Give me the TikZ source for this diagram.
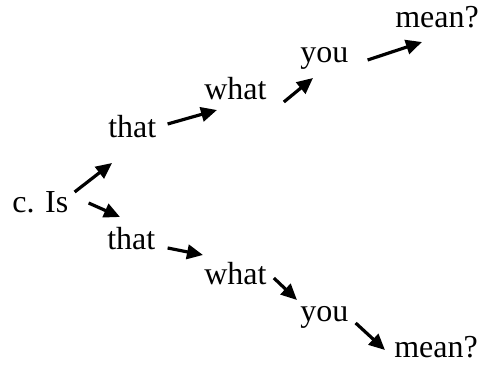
\documentclass[tikz,border=0pt]{standalone}
\usepackage{fontspec}
\setmainfont{Liberation Serif}
\usetikzlibrary{arrows.meta}
\tikzset{
  word/.style={anchor=base west, inner sep=0pt, font=\fontsize{20}{24}\selectfont},
  arrow/.style={-{Triangle[length=10pt, width=9pt]}, line width=2pt},
}
\begin{document}
\begin{tikzpicture}[x=0.625pt, y=-0.625pt]
  \useasboundingbox (0,0) rectangle (486,372);
  \node[word] (is) at (12,213) {c. Is};
  % upper reading
  \node[word] (that1) at (108,138) {that};
  \node[word] (what1) at (204,100) {what};
  \node[word] (you1) at (300,63) {you};
  \node[word] (mean1) at (395,28) {mean?};
  \draw[arrow] ([shift={(6,-21)}]is.base east) -- ([shift={(4,25)}]that1.base west);
  \draw[arrow] ([shift={(11,-14)}]that1.base east) -- ([shift={(13,10)}]what1.base west);
  \draw[arrow] ([shift={(17,2)}]what1.base east) -- ([shift={(13,15)}]you1.base west);
  \draw[arrow] ([shift={(19,-3)}]you1.base east) -- ([shift={(27,14)}]mean1.base west);
  % lower reading
  \node[word] (that2) at (107,250) {that};
  \node[word] (what2) at (204,285) {what};
  \node[word] (you2) at (300,322) {you};
  \node[word] (mean2) at (394,358) {mean?};
  \draw[arrow] ([shift={(20,-10)}]is.base east) -- ([shift={(13,-33)}]that2.base west);
  \draw[arrow] ([shift={(12,-2)}]that2.base east) -- ([shift={(-1,-30)}]what2.base west);
  \draw[arrow] ([shift={(7,-7)}]what2.base east) -- ([shift={(-3,-22)}]you2.base west);
  \draw[arrow] ([shift={(7,1)}]you2.base east) -- ([shift={(-9,-8)}]mean2.base west);
\end{tikzpicture}
\end{document}
